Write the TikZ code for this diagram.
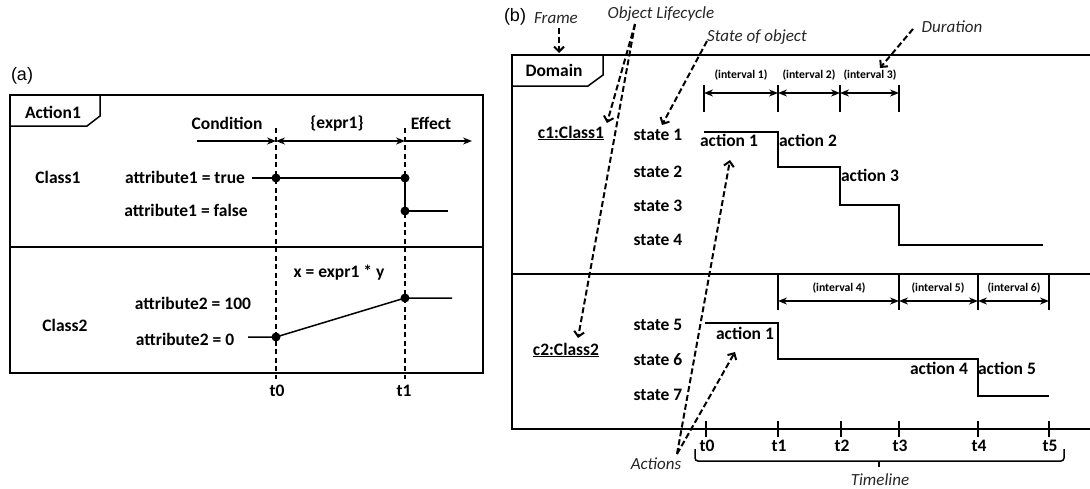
\documentclass[tikz,border=0pt]{standalone}
\usepackage{fontspec}
\setmainfont{Carlito}
\newfontfamily\arialf{Liberation Sans}
\usetikzlibrary{arrows.meta}
\begin{document}
\begin{tikzpicture}[x=1pt,y=-1pt,
  lbl/.style={font=\fontsize{17.5}{20}\selectfont\bfseries, inner sep=0pt},
  ital/.style={font=\fontsize{17}{20}\selectfont\itshape, inner sep=0pt, text=black!85},
  small/.style={font=\fontsize{11.7}{13}\selectfont\bfseries, inner sep=0pt},
  panel/.style={font=\arialf\fontsize{18}{21}\selectfont, inner sep=0pt},
  frameline/.style={line width=2pt},
  sig/.style={line width=1.5pt},
  vdash/.style={line width=1.4pt, dash pattern=on 5pt off 3.5pt},
  callout/.style={line width=2pt, dash pattern=on 6pt off 3pt, -{Straight Barb[length=5pt,width=10pt,line width=2pt]}},
  arr/.style={line width=1.4pt, -{Stealth[length=9pt,width=7pt]}},
  darr/.style={line width=1.4pt, {Stealth[length=9pt,width=7pt]}-{Stealth[length=9pt,width=7pt]}},
  dot/.style={circle, fill, inner sep=0pt, minimum size=9pt},
  tick/.style={line width=1.5pt}
]
\useasboundingbox (0,0) rectangle (1090,488);

% ================= Panel (a) =================
\node[panel] (la) at (22,76) {(a)};
\draw[frameline] (10,95) rectangle (483,373);
\draw[frameline] (10,247) -- (483,247);
\draw[sig] (10,126) -- (87,126) -- (100,116) -- (100,95);
\node[lbl] (action1) at (53,112) {Action1};

\node[lbl] (cond) at (227,123) {Condition};
\node[lbl] (expr) at (337,123) {\{expr1\}};
\node[lbl] (eff) at (431,123) {Effect};

\coordinate (cs) at (197,141);
\coordinate (t0a) at (276,141);
\coordinate (t1a) at (405,141);
\coordinate (ee) at (472,141);
\draw[arr] (cs) -- (t0a);
\draw[darr] (t0a) -- (t1a);
\draw[arr] (t1a) -- (ee);

\coordinate (t0top) at (276,128);
\coordinate (t0bot) at (276,379);
\coordinate (t1top) at (405,128);
\coordinate (t1bot) at (405,379);
\draw[vdash] (t0top) -- (t0bot);
\draw[vdash] (t1top) -- (t1bot);
\node[lbl] (t0lab) at (277,391) {t0};
\node[lbl] (t1lab) at (404,391) {t1};

\node[lbl] (class1) at (58,177) {Class1};
\node[lbl] (a1t) at (185,177) {attribute1 = true};
\node[lbl] (a1f) at (186,210) {attribute1 = false};

\coordinate (s1a) at (252,178);
\node[dot] (s1b) at (276,178) {};
\node[dot] (s1c) at (405,178) {};
\node[dot] (s1d) at (405,211) {};
\coordinate (s1e) at (448,211);
\draw[sig] (s1a) -- (s1b.center) -- (s1c.center) -- (s1d.center) -- (s1e);

\node[lbl] (xeq) at (339,273) {x = expr1 * y};
\node[lbl] (class2) at (65,325) {Class2};
\node[lbl] (a2h) at (193,303) {attribute2 = 100};
\node[lbl] (a2l) at (185,339) {attribute2 = 0};

\coordinate (s2a) at (248,337);
\node[dot] (s2b) at (276,337) {};
\node[dot] (s2c) at (405,298) {};
\coordinate (s2d) at (452,298);
\draw[sig] (s2a) -- (s2b.center) -- (s2c.center) -- (s2d);

% ================= Panel (b) =================
\node[panel] (lb) at (515,17) {(b)};
\node[ital] (frame) at (556,18) {Frame};
\node[ital] (olc) at (661,14) {Object Lifecycle};
\node[ital] (sob) at (757,37) {State of object};
\node[ital] (dur) at (952,27) {Duration};
\node[ital] (acts) at (656,464) {Actions};
\node[ital] (tline) at (880,480) {Timeline};

\draw[frameline] (1095,55) -- (512,55) -- (512,429) -- (1095,429);
\draw[frameline] (512,274) -- (1095,274);
\draw[sig] (512,86) -- (588,86) -- (603,75) -- (603,55);
\node[lbl] (domain) at (554,70) {Domain};

\node[lbl] (c1) at (571,133) {\underline{c1:Class1}};
\node[lbl] (c2) at (566,350) {\underline{c2:Class2}};
\node[lbl] (st1) at (658,135) {state 1};
\node[lbl] (st2) at (658,172) {state 2};
\node[lbl] (st3) at (658,206) {state 3};
\node[lbl] (st4) at (658,240) {state 4};
\node[lbl] (st5) at (658,325) {state 5};
\node[lbl] (st6) at (658,360) {state 6};
\node[lbl] (st7) at (658,395) {state 7};

% top intervals
\foreach \x/\n in {704/ia, 778/ib, 840/ic, 899/id}{
  \coordinate (\n top) at (\x,85);
  \coordinate (\n bot) at (\x,112);
  \coordinate (\n) at (\x,93);
  \draw[tick] (\n top) -- (\n bot);
}
\draw[darr] (ia) -- (ib);
\draw[darr] (ib) -- (ic);
\draw[darr] (ic) -- (id);
\node[small] (int1) at (741,75) {(interval 1)};
\node[small] (int2) at (809,75) {(interval 2)};
\node[small] (int3) at (870,75) {(interval 3)};

% bottom intervals
\foreach \x/\n in {778/ja, 899/jb, 978/jc, 1049/jd}{
  \coordinate (\n top) at (\x,274);
  \coordinate (\n bot) at (\x,310);
  \coordinate (\n) at (\x,301);
  \draw[tick] (\n top) -- (\n bot);
}
\draw[darr] (ja) -- (jb);
\draw[darr] (jb) -- (jc);
\draw[darr] (jc) -- (jd);
\node[small] (int4) at (839,288) {(interval 4)};
\node[small] (int5) at (938,288) {(interval 5)};
\node[small] (int6) at (1014,288) {(interval 6)};

% step c1
\draw[sig] (704,132) -- (778,132) -- (778,167) -- (840,167) -- (840,205) -- (899,205) -- (899,245) -- (1043,245);
\node[lbl] (ac1) at (729,140) {action 1};
\node[lbl] (ac2) at (808,140) {action 2};
\node[lbl] (ac3) at (870,175) {action 3};

% step c2
\draw[sig] (705,323) -- (778,323) -- (778,359) -- (978,359) -- (978,396) -- (1049,396);
\node[lbl] (ac1b) at (745,333) {action 1};
\node[lbl] (ac4) at (939,368) {action 4};
\node[lbl] (ac5) at (1007,368) {action 5};

% time axis ticks
\foreach \x/\t in {706/t0, 778/t1, 841/t2, 899/t3, 978/t4, 1049/t5}{
  \coordinate (\t u) at (\x,421);
  \coordinate (\t d) at (\x,437);
  \draw[tick] (\t u) -- (\t d);
  \node[lbl] (\t b) at (\x+1,446) {\t};
}

% bracket
\coordinate (brl) at (695,449);
\coordinate (brr) at (1064,449);
\coordinate (brm) at (879,461);
\coordinate (brt) at (879,467);
\draw[sig, rounded corners=3pt] (brl) -- (695,461) -- (1064,461) -- (brr);
\draw[sig] (brm) -- (brt);

% callouts
\coordinate (frS) at (559,28);
\coordinate (frE) at (559,53);
\draw[callout] (frS) -- (frE);
\coordinate (olA) at (635,24);
\coordinate (olB) at (607,123);
\coordinate (olC) at (578,338);
\draw[callout] (olA) -- (olB);
\draw[callout] (olA) -- (olC);
\coordinate (soS) at (707,41);
\coordinate (soE) at (662,125);
\draw[callout] (soS) -- (soE);
\coordinate (duS) at (913,29);
\coordinate (duE) at (880,68);
\draw[callout] (duS) -- (duE);
\coordinate (acS) at (677,454);
\coordinate (acE1) at (730,160);
\coordinate (acE2) at (735,352);
\draw[callout] (acS) -- (acE1);
\draw[callout] (acS) -- (acE2);
\end{tikzpicture}
\end{document}
